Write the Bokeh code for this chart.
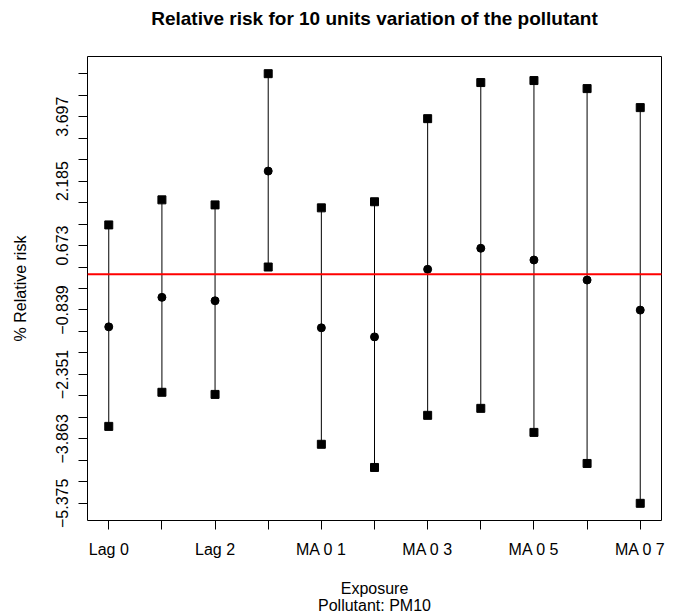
from bokeh.plotting import figure
from bokeh.models import (ColumnDataSource, FixedTicker, Range1d, Arrow, Title)
from bokeh.embed import file_html
from bokeh.resources import INLINE

# ---------------- data ----------------
exposures = ["Lag 0", "Lag 1", "Lag 2", "Lag 3", "MA 0 1", "MA 0 2",
             "MA 0 3", "MA 0 4", "MA 0 5", "MA 0 6", "MA 0 7"]
estimate = [-1.235, -0.543, -0.623, 2.420, -1.258, -1.470,
            0.115, 0.609, 0.334, -0.136, -0.842]
lower = [-3.570, -2.770, -2.820, 0.169, -3.990, -4.534,
         -3.311, -3.147, -3.711, -4.440, -5.375]
upper = [1.157, 1.745, 1.627, 4.705, 1.557, 1.700,
         3.650, 4.497, 4.544, 4.355, 3.909]

y_major_ticks = [-5.375, -3.863, -2.351, -0.839, 0.673, 2.185, 3.697]
y_tick_labels = ["\u22125.375", "\u22123.863", "\u22122.351", "\u22120.839",
                 "0.673", "2.185", "3.697"]
ref_value = 0.0

title_text = "Relative risk for 10 units variation of the pollutant"
x_label = "Exposure\nPollutant: PM10"
y_label = "% Relative risk"

# ---------------- derived ----------------
xs = list(range(1, len(exposures) + 1))
src = ColumnDataSource(dict(x=xs, est=estimate, lo=lower, hi=upper))

ymin, ymax = min(lower), max(upper)
ypad = 0.04 * (ymax - ymin)
xpad = 0.04 * (xs[-1] - xs[0])
y0, y1 = ymin - ypad, ymax + ypad
x0, x1 = xs[0] - xpad, xs[-1] + xpad

step = (y_major_ticks[1] - y_major_ticks[0]) / 3.0
minor = []
for t in y_major_ticks:
    for k in (1, 2):
        v = t + k * step
        if v <= ymax + 1e-9:
            minor.append(round(v, 6))

FONT = "Liberation Sans"
FW, FH = 574, 464

p = figure(frame_width=FW, frame_height=FH, title=None,
           x_range=Range1d(x0, x1), y_range=Range1d(y0, y1),
           output_backend="svg", toolbar_location=None,
           min_border_left=87, min_border_right=25,
           min_border_top=56, min_border_bottom=96,
           background_fill_color="white", border_fill_color="white")

# spacer between frame and title (closest to the frame), then the title
p.add_layout(Title(text=" ", text_font_size="1px", standoff=20), "above")
p.add_layout(Title(text=title_text, align="center", standoff=10,
                   text_font=FONT, text_font_size="19px",
                   text_font_style="bold", text_color="black"), "above")

p.outline_line_color = "black"
p.outline_line_width = 1
p.outline_line_alpha = 1.0
p.xgrid.visible = False
p.ygrid.visible = False

# x axis
xa = p.xaxis[0]
xa.ticker = FixedTicker(ticks=xs)
xa.major_label_overrides = {x: (name if i % 2 == 0 else "")
                            for i, (x, name) in enumerate(zip(xs, exposures))}
xa.axis_line_color = None
xa.major_tick_in = 0
xa.major_tick_out = 9
xa.major_tick_line_color = "black"
xa.minor_tick_line_color = None
xa.major_label_text_font = FONT
xa.major_label_text_font_size = "16px"
xa.major_label_text_color = "black"
xa.major_label_standoff = 11
xa.axis_label = x_label
xa.axis_label_text_font = FONT
xa.axis_label_text_font_size = "16px"
xa.axis_label_text_font_style = "normal"
xa.axis_label_text_color = "black"
xa.axis_label_standoff = 19
xa.axis_label_text_line_height = 1.0

# y axis
ya = p.yaxis[0]
ya.ticker = FixedTicker(ticks=y_major_ticks, minor_ticks=minor)
ya.major_label_overrides = dict(zip(y_major_ticks, y_tick_labels))
ya.axis_line_color = None
ya.major_tick_in = 0
ya.major_tick_out = 9
ya.minor_tick_in = 0
ya.minor_tick_out = 9
ya.major_tick_line_color = "black"
ya.minor_tick_line_color = "black"
ya.major_label_orientation = "vertical"
ya.major_label_text_font = FONT
ya.major_label_text_font_size = "16px"
ya.major_label_text_color = "black"
ya.major_label_standoff = 10
ya.axis_label = y_label
ya.axis_label_text_font = FONT
ya.axis_label_text_font_size = "16px"
ya.axis_label_text_font_style = "normal"
ya.axis_label_text_color = "black"
ya.axis_label_standoff = 25

# intervals and points
p.segment(x0="x", y0="lo", x1="x", y1="hi", source=src,
          line_color="black", line_width=1)
p.scatter(x="x", y="lo", source=src, marker="square", size=8,
          fill_color="black", line_color="black")
p.scatter(x="x", y="hi", source=src, marker="square", size=8,
          fill_color="black", line_color="black")
p.scatter(x="x", y="est", source=src, marker="circle", size=8,
          fill_color="black", line_color="black")

# reference line (extends slightly past the frame, as in the original)
ext = 10.0 / (FW / (x1 - x0))
p.add_layout(Arrow(end=None, x_start=x0, y_start=ref_value,
                   x_end=x1 + ext, y_end=ref_value,
                   line_color="red", line_width=2))

open("out.html", "w").write(file_html(p, INLINE))
